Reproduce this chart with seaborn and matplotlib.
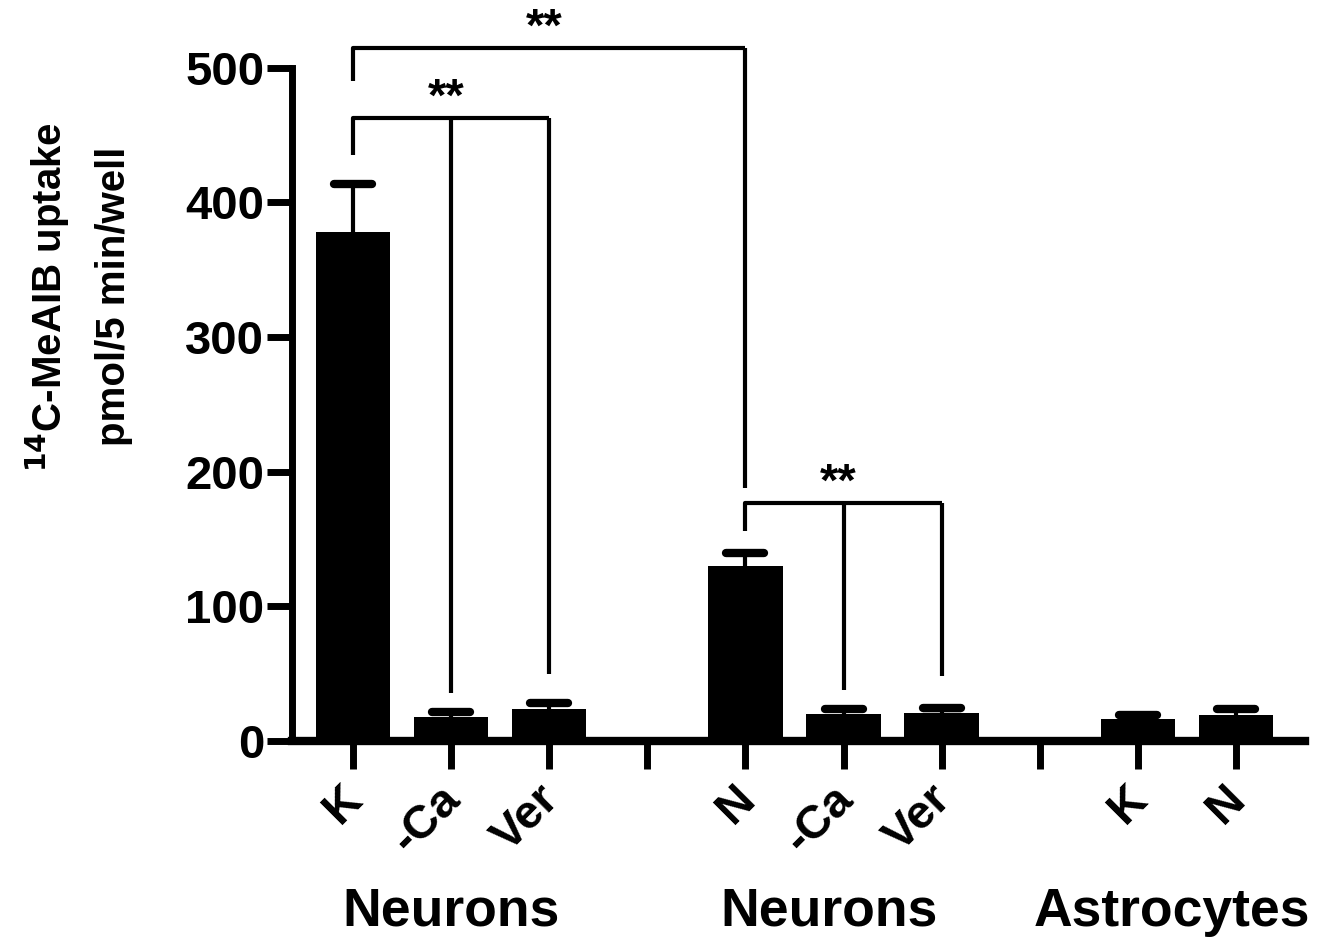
import numpy as np
import pandas as pd
import seaborn as sns
import matplotlib.pyplot as plt
import matplotlib.transforms as mtransforms
from matplotlib.markers import MarkerStyle

# bar positions leave an empty slot between the three groups
positions = [0, 1, 2, 4, 5, 6, 8, 9]
conditions = ["K", "-Ca", "Ver", "N", "-Ca", "Ver", "K", "N"]
uptake = [378, 18, 24, 130, 20, 21, 16, 19]
sem = [36, 3.5, 4, 9.5, 3.5, 3.5, 3, 4.5]

tick_pos = [0, 1, 2, 3, 4, 5, 6, 7, 8, 9]
tick_labels = ["K", "-Ca", "Ver", "", "N", "-Ca", "Ver", "", "K", "N"]

groups = ["Neurons", "Neurons", "Astrocytes"]
group_centers = [1.0, 4.85, 8.35]

# significance brackets: ref x, ref y, [(target x, target y)...], bracket height, label
brackets = [
    (0, 490, [(4, 188)], 515, "**"),
    (0, 435, [(1, 36), (2, 50)], 463, "**"),
    (4, 156, [(5, 38), (6, 48)], 177, "**"),
]

df = pd.DataFrame({"pos": positions, "cond": conditions, "uptake": uptake})

sns.set_style("ticks")
plt.rcParams["font.family"] = ["Liberation Sans", "DejaVu Sans"]
plt.rcParams["font.weight"] = "bold"
for key in ["text.color", "axes.edgecolor", "axes.labelcolor",
            "xtick.color", "ytick.color"]:
    plt.rcParams[key] = "black"

fig = plt.figure(figsize=(13.34, 9.41), dpi=100)
ax = fig.add_axes([0.219, 0.2125, 0.759, 0.7155])

sns.barplot(data=df, x="pos", y="uptake", native_scale=True, color="black",
            width=0.76, saturation=1, edgecolor="black", linewidth=0, ax=ax,
            zorder=2)

# symmetric error bars drawn under the bars so only the upper half shows
cap = MarkerStyle("_", capstyle="round")
_, caplines, _ = ax.errorbar(positions, uptake, yerr=sem, fmt="none",
                             ecolor="black", elinewidth=3, capsize=14,
                             capthick=6, zorder=1)
for c in caplines:
    c.set_marker(cap)

for x0, y0, targets, top, label in brackets:
    x_end = max([x0] + [t[0] for t in targets])
    ax.plot([x0, x0, x_end], [y0, top, top], color="black", lw=3,
            clip_on=False, solid_capstyle="butt")
    for tx, ty in targets:
        ax.plot([tx, tx], [top, ty], color="black", lw=3, clip_on=False,
                solid_capstyle="butt")
    ax.text((x0 + x_end) / 2 - 0.05, top + 5, label, ha="center",
            va="baseline", fontsize=34, fontweight="bold")

ax.set_xlim(-0.62, 9.7)
ax.set_ylim(0, 500)
ax.set_yticks([0, 100, 200, 300, 400, 500])
ax.set_xticks(tick_pos)
ax.set_xticklabels(tick_labels, rotation=45, ha="right", rotation_mode="anchor",
                   fontsize=34, fontweight="bold")
ax.tick_params(axis="x", length=20, width=5, pad=6)
ax.tick_params(axis="y", length=18, width=5, labelsize=34, pad=2)
for t in ax.get_yticklabels():
    t.set_fontweight("bold")
# nudge the slanted labels left, as in the original
shift = mtransforms.ScaledTranslation(-13 / 100, 0, fig.dpi_scale_trans)
for tick in ax.xaxis.get_major_ticks():
    tick.label1.set_transform(tick.label1.get_transform() + shift)

sns.despine(ax=ax)
ax.spines["left"].set_linewidth(5)
ax.spines["bottom"].set_linewidth(6)

ax.set_xlabel("")
ax.set_ylabel("$\\mathbf{^{14}}$C-MeAIB uptake\npmol/5 min/well", fontsize=29,
              fontweight="bold", linespacing=1.78)
ax.yaxis.set_label_coords(-0.157, 0.66)

for name, cx in zip(groups, group_centers):
    ax.text(cx, -0.274, name, transform=ax.get_xaxis_transform(), ha="center",
            va="baseline", fontsize=38.5, fontweight="bold")

fig.savefig("out.png", dpi=100)
